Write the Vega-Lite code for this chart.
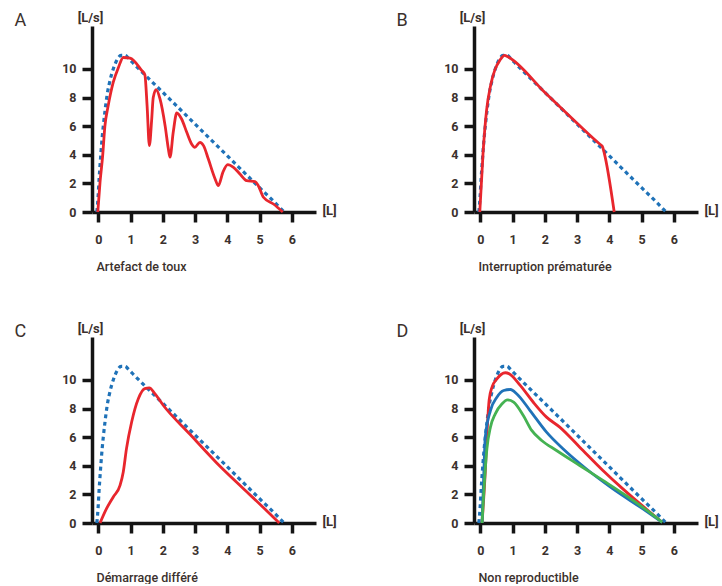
{
  "$schema": "https://vega.github.io/schema/vega-lite/v6.json",
  "padding": {"left": 14, "top": 11, "right": 0, "bottom": 0},
  "background": "white",
  "datasets": {
    "theorique": [
      {"x": -0.05, "y": 0}, {"x": -0.01, "y": 1.1}, {"x": 0.02, "y": 2.3}, {"x": 0.06, "y": 3.6},
      {"x": 0.1, "y": 4.8}, {"x": 0.15, "y": 6.0}, {"x": 0.2, "y": 7.0}, {"x": 0.27, "y": 8.2},
      {"x": 0.36, "y": 9.2}, {"x": 0.46, "y": 10.0}, {"x": 0.57, "y": 10.6}, {"x": 0.7, "y": 10.95},
      {"x": 0.82, "y": 10.95}, {"x": 0.95, "y": 10.7}, {"x": 1.1, "y": 10.35}, {"x": 1.3, "y": 9.9},
      {"x": 2.0, "y": 8.36}, {"x": 3.0, "y": 6.14}, {"x": 4.0, "y": 3.92}, {"x": 5.0, "y": 1.7},
      {"x": 5.5, "y": 0.6}, {"x": 5.76, "y": 0}
    ],
    "toux": [
      {"x": -0.02, "y": 0}, {"x": 0.05, "y": 2.1}, {"x": 0.13, "y": 3.9}, {"x": 0.2, "y": 6.0},
      {"x": 0.3, "y": 7.4}, {"x": 0.46, "y": 9.07}, {"x": 0.62, "y": 10.1}, {"x": 0.77, "y": 10.8},
      {"x": 0.98, "y": 10.75}, {"x": 1.34, "y": 9.9}, {"x": 1.44, "y": 9.6}, {"x": 1.51, "y": 7.4},
      {"x": 1.58, "y": 4.64}, {"x": 1.65, "y": 6.4}, {"x": 1.7, "y": 8.0}, {"x": 1.79, "y": 8.55},
      {"x": 1.91, "y": 7.9}, {"x": 2.07, "y": 6.0}, {"x": 2.17, "y": 4.4}, {"x": 2.22, "y": 3.83},
      {"x": 2.32, "y": 5.57}, {"x": 2.43, "y": 6.92}, {"x": 2.58, "y": 6.5}, {"x": 2.74, "y": 5.57},
      {"x": 2.89, "y": 4.76}, {"x": 2.99, "y": 4.52}, {"x": 3.15, "y": 4.87}, {"x": 3.26, "y": 4.64},
      {"x": 3.41, "y": 3.7}, {"x": 3.62, "y": 2.31}, {"x": 3.72, "y": 1.84}, {"x": 3.86, "y": 2.77},
      {"x": 4.01, "y": 3.31}, {"x": 4.19, "y": 3.12}, {"x": 4.39, "y": 2.66}, {"x": 4.6, "y": 2.19},
      {"x": 4.86, "y": 2.12}, {"x": 4.96, "y": 1.84}, {"x": 5.12, "y": 1.03}, {"x": 5.43, "y": 0.56},
      {"x": 5.72, "y": 0}
    ],
    "interruption": [
      {"x": -0.02, "y": 0}, {"x": 0.08, "y": 4.1}, {"x": 0.19, "y": 7.1}, {"x": 0.32, "y": 8.9},
      {"x": 0.45, "y": 9.95}, {"x": 0.6, "y": 10.6}, {"x": 0.75, "y": 10.95}, {"x": 0.85, "y": 10.85},
      {"x": 2.0, "y": 8.35}, {"x": 3.0, "y": 6.2}, {"x": 3.7, "y": 4.75}, {"x": 3.78, "y": 4.6},
      {"x": 3.84, "y": 4.13}, {"x": 4.15, "y": 0}
    ],
    "demarrage": [
      {"x": 0.05, "y": 0}, {"x": 0.25, "y": 1.0}, {"x": 0.46, "y": 1.82}, {"x": 0.67, "y": 2.63},
      {"x": 0.77, "y": 3.57}, {"x": 0.87, "y": 5.2}, {"x": 1.03, "y": 7.06}, {"x": 1.24, "y": 8.7},
      {"x": 1.44, "y": 9.39}, {"x": 1.58, "y": 9.44}, {"x": 1.75, "y": 9.04}, {"x": 2.01, "y": 8.23},
      {"x": 2.84, "y": 6.2}, {"x": 3.67, "y": 4.2}, {"x": 4.5, "y": 2.4}, {"x": 5.1, "y": 1.12},
      {"x": 5.61, "y": 0}
    ],
    "essais": [
      {"essai": "Essai 1", "x": 0.05, "y": 0}, {"essai": "Essai 1", "x": 0.15, "y": 3.6},
      {"essai": "Essai 1", "x": 0.22, "y": 7.0}, {"essai": "Essai 1", "x": 0.27, "y": 8.6},
      {"essai": "Essai 1", "x": 0.36, "y": 9.5}, {"essai": "Essai 1", "x": 0.51, "y": 10.07},
      {"essai": "Essai 1", "x": 0.77, "y": 10.5}, {"essai": "Essai 1", "x": 0.9, "y": 10.42},
      {"essai": "Essai 1", "x": 1.24, "y": 9.6}, {"essai": "Essai 1", "x": 1.64, "y": 8.44},
      {"essai": "Essai 1", "x": 2.05, "y": 7.4}, {"essai": "Essai 1", "x": 2.46, "y": 6.7},
      {"essai": "Essai 1", "x": 3.08, "y": 5.3}, {"essai": "Essai 1", "x": 3.8, "y": 3.67},
      {"essai": "Essai 1", "x": 4.41, "y": 2.4}, {"essai": "Essai 1", "x": 5.13, "y": 1.0},
      {"essai": "Essai 1", "x": 5.64, "y": 0.05},
      {"essai": "Essai 2", "x": 0.05, "y": 0}, {"essai": "Essai 2", "x": 0.1, "y": 3.2},
      {"essai": "Essai 2", "x": 0.15, "y": 6.0}, {"essai": "Essai 2", "x": 0.31, "y": 7.86},
      {"essai": "Essai 2", "x": 0.51, "y": 8.79}, {"essai": "Essai 2", "x": 0.72, "y": 9.26},
      {"essai": "Essai 2", "x": 0.93, "y": 9.33}, {"essai": "Essai 2", "x": 1.13, "y": 9.02},
      {"essai": "Essai 2", "x": 1.54, "y": 7.86}, {"essai": "Essai 2", "x": 2.05, "y": 6.35},
      {"essai": "Essai 2", "x": 2.56, "y": 5.19}, {"essai": "Essai 2", "x": 3.28, "y": 3.79},
      {"essai": "Essai 2", "x": 4.1, "y": 2.4}, {"essai": "Essai 2", "x": 5.03, "y": 1.0},
      {"essai": "Essai 2", "x": 5.64, "y": 0.05},
      {"essai": "Essai 3", "x": 0.05, "y": 0}, {"essai": "Essai 3", "x": 0.2, "y": 5.19},
      {"essai": "Essai 3", "x": 0.31, "y": 6.7}, {"essai": "Essai 3", "x": 0.46, "y": 7.63},
      {"essai": "Essai 3", "x": 0.67, "y": 8.33}, {"essai": "Essai 3", "x": 0.84, "y": 8.6},
      {"essai": "Essai 3", "x": 1.03, "y": 8.44}, {"essai": "Essai 3", "x": 1.33, "y": 7.51},
      {"essai": "Essai 3", "x": 1.59, "y": 6.47}, {"essai": "Essai 3", "x": 1.9, "y": 5.77},
      {"essai": "Essai 3", "x": 2.36, "y": 5.07}, {"essai": "Essai 3", "x": 3.08, "y": 4.02},
      {"essai": "Essai 3", "x": 3.8, "y": 2.98}, {"essai": "Essai 3", "x": 4.51, "y": 1.93},
      {"essai": "Essai 3", "x": 5.23, "y": 0.77}, {"essai": "Essai 3", "x": 5.64, "y": 0.05}
    ],
    "unite": [{"x": 6.95, "y": 0.08, "t": "[L]"}]
  },
  "config": {
    "view": {"stroke": null},
    "font": "Roboto",
    "axis": {
      "grid": false,
      "domainColor": "#141414",
      "domainWidth": 3.5,
      "tickColor": "#141414",
      "tickWidth": 3.5,
      "tickSize": 10,
      "labelFont": "Roboto",
      "labelFontSize": 12.5,
      "labelFontWeight": "bold",
      "labelColor": "#3b312d",
      "titleFont": "Roboto",
      "titleColor": "#3b312d"
    },
    "axisX": {
      "labelPadding": 11,
      "titleX": 4,
      "titleY": 58,
      "titleAlign": "left",
      "titleBaseline": "alphabetic",
      "titleFontSize": 12.5,
      "titleFontWeight": 500
    },
    "axisY": {
      "labelPadding": 6,
      "titleAngle": 0,
      "titleX": -2,
      "titleY": -5,
      "titleAlign": "center",
      "titleBaseline": "alphabetic",
      "titleFontSize": 13,
      "titleFontWeight": "bold"
    },
    "title": {
      "anchor": "start",
      "frame": "group",
      "dx": -77.5,
      "dy": 23,
      "offset": 0,
      "baseline": "alphabetic",
      "fontSize": 18,
      "fontWeight": "normal",
      "color": "#3b312d",
      "font": "Roboto"
    },
    "text": {"font": "Roboto", "fontWeight": "bold", "fontSize": 13, "color": "#3b312d", "align": "left", "baseline": "middle"}
  },
  "columns": 2,
  "spacing": {"row": 125, "column": 158},
  "bounds": "flush",
  "concat": [
    {
      "title": "A",
      "width": 224,
      "height": 186,
      "encoding": {
        "x": {"field": "x", "type": "quantitative", "scale": {"domain": [-0.2, 6.75], "nice": false, "zero": false},
              "axis": {"values": [0, 1, 2, 3, 4, 5, 6], "title": "Artefact de toux"}},
        "y": {"field": "y", "type": "quantitative", "scale": {"domain": [0, 13], "nice": false},
              "axis": {"values": [0, 2, 4, 6, 8, 10], "title": "[L/s]"}}
      },
      "layer": [
        {"data": {"name": "theorique"}, "mark": {"type": "line", "interpolate": "monotone", "color": "#1f72b8", "strokeWidth": 3.2, "strokeDash": [4, 3.5]}},
        {"data": {"name": "toux"}, "mark": {"type": "line", "interpolate": "monotone", "color": "#e8262d", "strokeWidth": 2.8}},
        {"data": {"name": "unite"}, "mark": {"type": "text"}, "encoding": {"text": {"field": "t"}}}
      ]
    },
    {
      "title": "B",
      "width": 224,
      "height": 186,
      "encoding": {
        "x": {"field": "x", "type": "quantitative", "scale": {"domain": [-0.2, 6.75], "nice": false, "zero": false},
              "axis": {"values": [0, 1, 2, 3, 4, 5, 6], "title": "Interruption prématurée"}},
        "y": {"field": "y", "type": "quantitative", "scale": {"domain": [0, 13], "nice": false},
              "axis": {"values": [0, 2, 4, 6, 8, 10], "title": "[L/s]"}}
      },
      "layer": [
        {"data": {"name": "theorique"}, "mark": {"type": "line", "interpolate": "monotone", "color": "#1f72b8", "strokeWidth": 3.2, "strokeDash": [4, 3.5]}},
        {"data": {"name": "interruption"}, "mark": {"type": "line", "interpolate": "monotone", "color": "#e8262d", "strokeWidth": 2.8}},
        {"data": {"name": "unite"}, "mark": {"type": "text"}, "encoding": {"text": {"field": "t"}}}
      ]
    },
    {
      "title": "C",
      "width": 224,
      "height": 186,
      "encoding": {
        "x": {"field": "x", "type": "quantitative", "scale": {"domain": [-0.2, 6.75], "nice": false, "zero": false},
              "axis": {"values": [0, 1, 2, 3, 4, 5, 6], "title": "Démarrage différé"}},
        "y": {"field": "y", "type": "quantitative", "scale": {"domain": [0, 13], "nice": false},
              "axis": {"values": [0, 2, 4, 6, 8, 10], "title": "[L/s]"}}
      },
      "layer": [
        {"data": {"name": "theorique"}, "mark": {"type": "line", "interpolate": "monotone", "color": "#1f72b8", "strokeWidth": 3.2, "strokeDash": [4, 3.5]}},
        {"data": {"name": "demarrage"}, "mark": {"type": "line", "interpolate": "monotone", "color": "#e8262d", "strokeWidth": 2.8}},
        {"data": {"name": "unite"}, "mark": {"type": "text"}, "encoding": {"text": {"field": "t"}}}
      ]
    },
    {
      "title": "D",
      "width": 224,
      "height": 186,
      "encoding": {
        "x": {"field": "x", "type": "quantitative", "scale": {"domain": [-0.2, 6.75], "nice": false, "zero": false},
              "axis": {"values": [0, 1, 2, 3, 4, 5, 6], "title": "Non reproductible"}},
        "y": {"field": "y", "type": "quantitative", "scale": {"domain": [0, 13], "nice": false},
              "axis": {"values": [0, 2, 4, 6, 8, 10], "title": "[L/s]"}}
      },
      "layer": [
        {"data": {"name": "theorique"}, "mark": {"type": "line", "interpolate": "monotone", "color": "#1f72b8", "strokeWidth": 3.2, "strokeDash": [4, 3.5]}},
        {"data": {"name": "essais"}, "mark": {"type": "line", "interpolate": "monotone", "strokeWidth": 2.8},
         "encoding": {"color": {"field": "essai", "type": "nominal", "legend": null,
                                "scale": {"domain": ["Essai 1", "Essai 2", "Essai 3"], "range": ["#e8262d", "#1f72b8", "#45b252"]}},
                      "order": {"field": "x", "type": "quantitative"}}},
        {"data": {"name": "unite"}, "mark": {"type": "text"}, "encoding": {"text": {"field": "t"}}}
      ]
    }
  ]
}
